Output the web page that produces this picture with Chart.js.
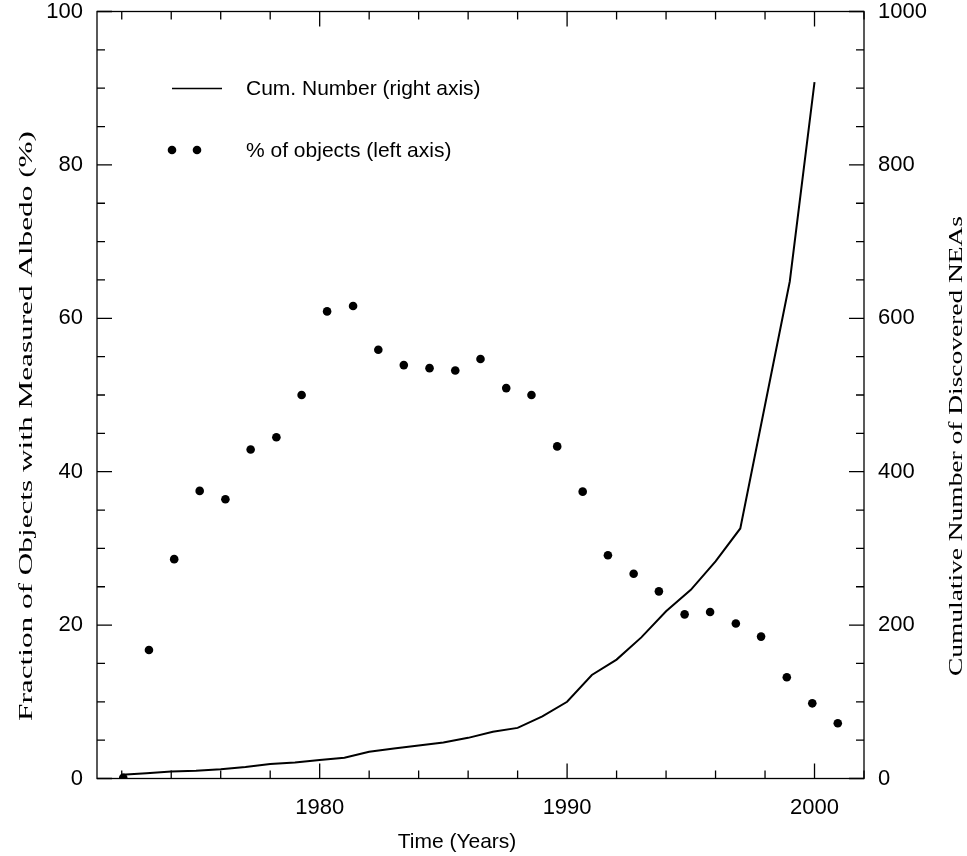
<!DOCTYPE html>
<html>
<head>
<meta charset="utf-8">
<script src="https://cdn.jsdelivr.net/npm/chart.js@4/dist/chart.umd.min.js"></script>
<style>
  html, body { margin: 0; padding: 0; background: #fff; }
  #wrap { width: 967px; height: 856px; }
</style>
</head>
<body>
<div id="wrap"><canvas id="albedoChart"></canvas></div>
<script>
// % of objects with measured albedo (left axis)
const pctYears = [1972.06, 1973.1, 1974.12, 1975.15, 1976.19, 1977.21, 1978.25, 1979.27, 1980.3, 1981.35,
    1982.37, 1983.4, 1984.44, 1985.48, 1986.5, 1987.54, 1988.56, 1989.6, 1990.63, 1991.65,
    1992.69, 1993.71, 1994.75, 1995.78, 1996.82, 1997.84, 1998.88, 1999.91, 2000.94];
const pctValues = [0.1, 16.75, 28.6, 37.5, 36.4, 42.9, 44.5, 50.0, 60.9, 61.6,
    55.9, 53.9, 53.5, 53.2, 54.7, 50.9, 50.0, 43.3, 37.4, 29.1,
    26.7, 24.4, 21.4, 21.7, 20.2, 18.5, 13.2, 9.8, 7.2];

// cumulative number of discovered NEAs (right axis)
const cumYears = [1972, 1973, 1974, 1975, 1976, 1977, 1978, 1979, 1980, 1981,
    1982, 1983, 1984, 1985, 1986, 1987, 1988, 1989, 1990, 1991,
    1992, 1993, 1994, 1995, 1996, 1997, 1998, 1999, 2000];
const cumValues = [5, 7, 9, 10, 12, 15, 19, 21, 24, 27,
    35, 39, 43, 47, 53, 61, 66, 81, 100, 135,
    155, 184, 218, 246, 283, 326, 487, 648, 908];

const xTickYears = [1980, 1990, 2000];
const leftTicks = [0, 20, 40, 60, 80, 100];
const rightTicks = [0, 200, 400, 600, 800, 1000];

const legendLabels = ["Cum. Number (right axis)", "% of objects (left axis)"];
const xTitle = "Time (Years)";
const leftTitle = "Fraction of Objects with Measured Albedo (%)";
const rightTitle = "Cumulative Number of Discovered NEAs";

const sans = "'Liberation Sans', Arial, sans-serif";
const serif = "'Liberation Serif', 'Times New Roman', serif";

const toPairs = (xs, ys) => xs.map((x, i) => ({ x, y: ys[i] }));

// box, inward ticks, titles, legend
const framePlugin = {
    id: 'frame',
    afterDraw(chart) {
        const { ctx, chartArea: a, scales } = chart;
        const x = scales.x, yl = scales.y, yr = scales.y2;
        ctx.save();
        ctx.strokeStyle = '#000';
        ctx.lineWidth = 1.3;
        ctx.strokeRect(a.left, a.top, a.right - a.left, a.bottom - a.top);

        ctx.beginPath();
        for (let yr0 = 1972; yr0 <= 2002; yr0 += 2) {
            const px = x.getPixelForValue(yr0);
            const len = yr0 % 10 === 0 ? 15 : 8;
            ctx.moveTo(px, a.bottom); ctx.lineTo(px, a.bottom - len);
            ctx.moveTo(px, a.top); ctx.lineTo(px, a.top + len);
        }
        for (let v = 0; v <= 100; v += 5) {
            const py = yl.getPixelForValue(v);
            const len = v % 20 === 0 ? 15 : 8;
            ctx.moveTo(a.left, py); ctx.lineTo(a.left + len, py);
        }
        for (let v = 0; v <= 1000; v += 50) {
            const py = yr.getPixelForValue(v);
            const len = v % 200 === 0 ? 15 : 8;
            ctx.moveTo(a.right, py); ctx.lineTo(a.right - len, py);
        }
        ctx.stroke();

        // legend
        ctx.lineWidth = 1.6;
        ctx.beginPath();
        ctx.moveTo(172, 88.5); ctx.lineTo(222, 88.5);
        ctx.stroke();
        ctx.fillStyle = '#000';
        [172, 197].forEach(cx => {
            ctx.beginPath(); ctx.arc(cx, 150, 4.3, 0, Math.PI * 2); ctx.fill();
        });
        ctx.font = `21px ${sans}`;
        ctx.textBaseline = 'middle';
        ctx.textAlign = 'left';
        ctx.fillText(legendLabels[0], 246, 89);
        ctx.fillText(legendLabels[1], 246, 151);

        // x title
        ctx.textAlign = 'center';
        ctx.fillText(xTitle, 457, 842);

        // rotated serif titles, stretched to the reference length
        const vTitle = (text, cx, cy, len) => {
            ctx.save();
            ctx.font = `18px ${serif}`;
            const w = ctx.measureText(text).width;
            ctx.translate(cx, cy);
            ctx.rotate(-Math.PI / 2);
            ctx.scale(len / w, 1);
            ctx.textAlign = 'center';
            ctx.textBaseline = 'middle';
            ctx.fillText(text, 0, 0);
            ctx.restore();
        };
        vTitle(leftTitle, 27, 426, 590);
        vTitle(rightTitle, 957, 446, 460);
        ctx.restore();
    }
};

const plain = v => String(v);

new Chart(document.getElementById('albedoChart'), {
    type: 'scatter',
    data: {
        datasets: [
            {
                type: 'line',
                label: legendLabels[0],
                data: toPairs(cumYears, cumValues),
                yAxisID: 'y2',
                borderColor: '#000',
                borderWidth: 2,
                pointRadius: 0,
                tension: 0,
                fill: false
            },
            {
                label: legendLabels[1],
                data: toPairs(pctYears, pctValues),
                yAxisID: 'y',
                backgroundColor: '#000',
                borderColor: '#000',
                pointRadius: 4.3,
                pointBorderWidth: 0
            }
        ]
    },
    options: {
        responsive: true,
        maintainAspectRatio: false,
        animation: false,
        layout: { padding: { top: 11.5, left: 0, right: 0, bottom: 0 } },
        plugins: { legend: { display: false }, tooltip: { enabled: false } },
        scales: {
            x: {
                type: 'linear',
                min: 1971, max: 2002,
                afterBuildTicks: s => { s.ticks = xTickYears.map(v => ({ value: v })); },
                afterFit: s => { s.height = 77.5; s.paddingLeft = 0; s.paddingRight = 0; },
                grid: { display: false, drawTicks: false },
                border: { display: false },
                ticks: { color: '#000', font: { family: sans, size: 22 }, padding: 16, maxRotation: 0, callback: plain }
            },
            y: {
                position: 'left',
                min: 0, max: 100,
                afterBuildTicks: s => { s.ticks = leftTicks.map(v => ({ value: v })); },
                afterFit: s => { s.width = 97; s.paddingTop = 0; s.paddingBottom = 0; },
                grid: { display: false, drawTicks: false },
                border: { display: false },
                ticks: { color: '#000', font: { family: sans, size: 22 }, padding: 14, callback: plain }
            },
            y2: {
                position: 'right',
                min: 0, max: 1000,
                afterBuildTicks: s => { s.ticks = rightTicks.map(v => ({ value: v })); },
                afterFit: s => { s.width = 103; s.paddingTop = 0; s.paddingBottom = 0; },
                grid: { display: false, drawTicks: false },
                border: { display: false },
                ticks: { color: '#000', font: { family: sans, size: 22 }, padding: 14, callback: plain }
            }
        }
    },
    plugins: [framePlugin]
});
</script>
</body>
</html>
